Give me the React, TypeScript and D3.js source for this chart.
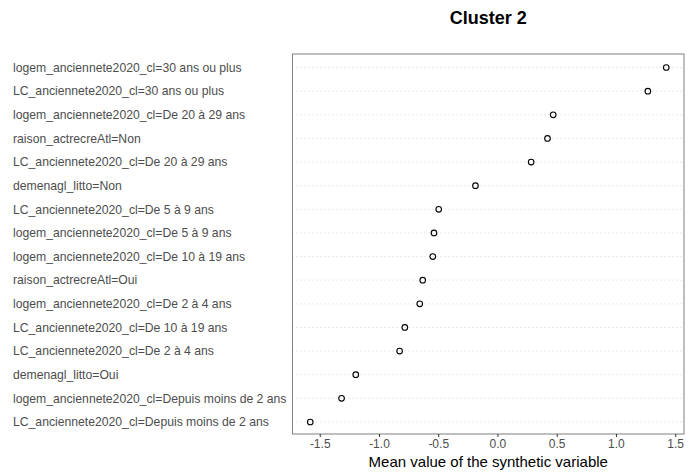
import { useRef, useEffect } from "react";
import * as d3 from "d3";

const labels = [
  "logem_anciennete2020_cl=30 ans ou plus",
  "LC_anciennete2020_cl=30 ans ou plus",
  "logem_anciennete2020_cl=De 20 à 29 ans",
  "raison_actrecreAtl=Non",
  "LC_anciennete2020_cl=De 20 à 29 ans",
  "demenagl_litto=Non",
  "LC_anciennete2020_cl=De 5 à 9 ans",
  "logem_anciennete2020_cl=De 5 à 9 ans",
  "logem_anciennete2020_cl=De 10 à 19 ans",
  "raison_actrecreAtl=Oui",
  "logem_anciennete2020_cl=De 2 à 4 ans",
  "LC_anciennete2020_cl=De 10 à 19 ans",
  "LC_anciennete2020_cl=De 2 à 4 ans",
  "demenagl_litto=Oui",
  "logem_anciennete2020_cl=Depuis moins de 2 ans",
  "LC_anciennete2020_cl=Depuis moins de 2 ans",
];

const values = [
  1.42, 1.265, 0.466, 0.418, 0.28, -0.19, -0.5, -0.54, -0.55, -0.635, -0.66,
  -0.786, -0.83, -1.2, -1.32, -1.584,
];

const xTicks = [-1.5, -1.0, -0.5, 0.0, 0.5, 1.0, 1.5];

const WIDTH = 691;
const HEIGHT = 472;
const FONT = "Liberation Sans, Arial, sans-serif";

export default function App() {
  const svgRef = useRef<SVGSVGElement>(null);

  useEffect(() => {
    if (!svgRef.current) return;
    const svg = d3.select(svgRef.current);
    svg.selectAll("*").remove();

    const left = 292.5;
    const right = 684;
    const top = 54;
    const bottom = 434;

    const x = d3.scaleLinear().domain([-1.734, 1.57]).range([left, right]);
    const y = d3
      .scalePoint<string>()
      .domain(labels)
      .range([top + 1, bottom + 0.5])
      .padding(0.53);

    // gridlines
    svg
      .append("g")
      .selectAll("line")
      .data(labels)
      .join("line")
      .attr("x1", left)
      .attr("x2", right)
      .attr("y1", (d) => y(d)!)
      .attr("y2", (d) => y(d)!)
      .attr("stroke", "#c8c8c8")
      .attr("stroke-width", 0.8)
      .attr("stroke-dasharray", "1,3");

    // panel border
    svg
      .append("rect")
      .attr("x", left)
      .attr("y", top)
      .attr("width", right - left)
      .attr("height", bottom - top)
      .attr("fill", "none")
      .attr("stroke", "#7f7f7f")
      .attr("stroke-width", 1);

    // points
    svg
      .append("g")
      .selectAll("circle")
      .data(values)
      .join("circle")
      .attr("cx", (d) => x(d))
      .attr("cy", (_, i) => y(labels[i])!)
      .attr("r", 2.8)
      .attr("fill", "none")
      .attr("stroke", "#000")
      .attr("stroke-width", 1.1);

    // y labels
    svg
      .append("g")
      .selectAll("text")
      .data(labels)
      .join("text")
      .attr("x", 13)
      .attr("y", (d) => y(d)!)
      .attr("dy", "0.35em")
      .attr("fill", "#4d4d4d")
      .attr("font-size", 12.2)
      .attr("font-family", FONT)
      .text((d) => d);

    // x ticks
    const tickG = svg.append("g");
    tickG
      .selectAll("line")
      .data(xTicks)
      .join("line")
      .attr("x1", (d) => x(d))
      .attr("x2", (d) => x(d))
      .attr("y1", bottom)
      .attr("y2", bottom + 3)
      .attr("stroke", "#333")
      .attr("stroke-width", 1);
    tickG
      .selectAll("text")
      .data(xTicks)
      .join("text")
      .attr("x", (d) => x(d))
      .attr("y", bottom + 14)
      .attr("text-anchor", "middle")
      .attr("fill", "#4d4d4d")
      .attr("font-size", 12)
      .attr("font-family", FONT)
      .text((d) => d3.format(".1f")(d).replace("−", "-"));

    // axis title
    svg
      .append("text")
      .attr("x", (left + right) / 2)
      .attr("y", 467)
      .attr("text-anchor", "middle")
      .attr("fill", "#000")
      .attr("font-size", 15)
      .attr("font-family", FONT)
      .text("Mean value of the synthetic variable");

    // title
    svg
      .append("text")
      .attr("x", (left + right) / 2)
      .attr("y", 24)
      .attr("text-anchor", "middle")
      .attr("fill", "#000")
      .attr("font-size", 18)
      .attr("font-weight", "bold")
      .attr("font-family", FONT)
      .text("Cluster 2");
  }, []);

  return (
    <svg
      ref={svgRef}
      width={WIDTH}
      height={HEIGHT}
      style={{ position: "absolute", left: 0, top: 0, background: "#fff" }}
    />
  );
}
